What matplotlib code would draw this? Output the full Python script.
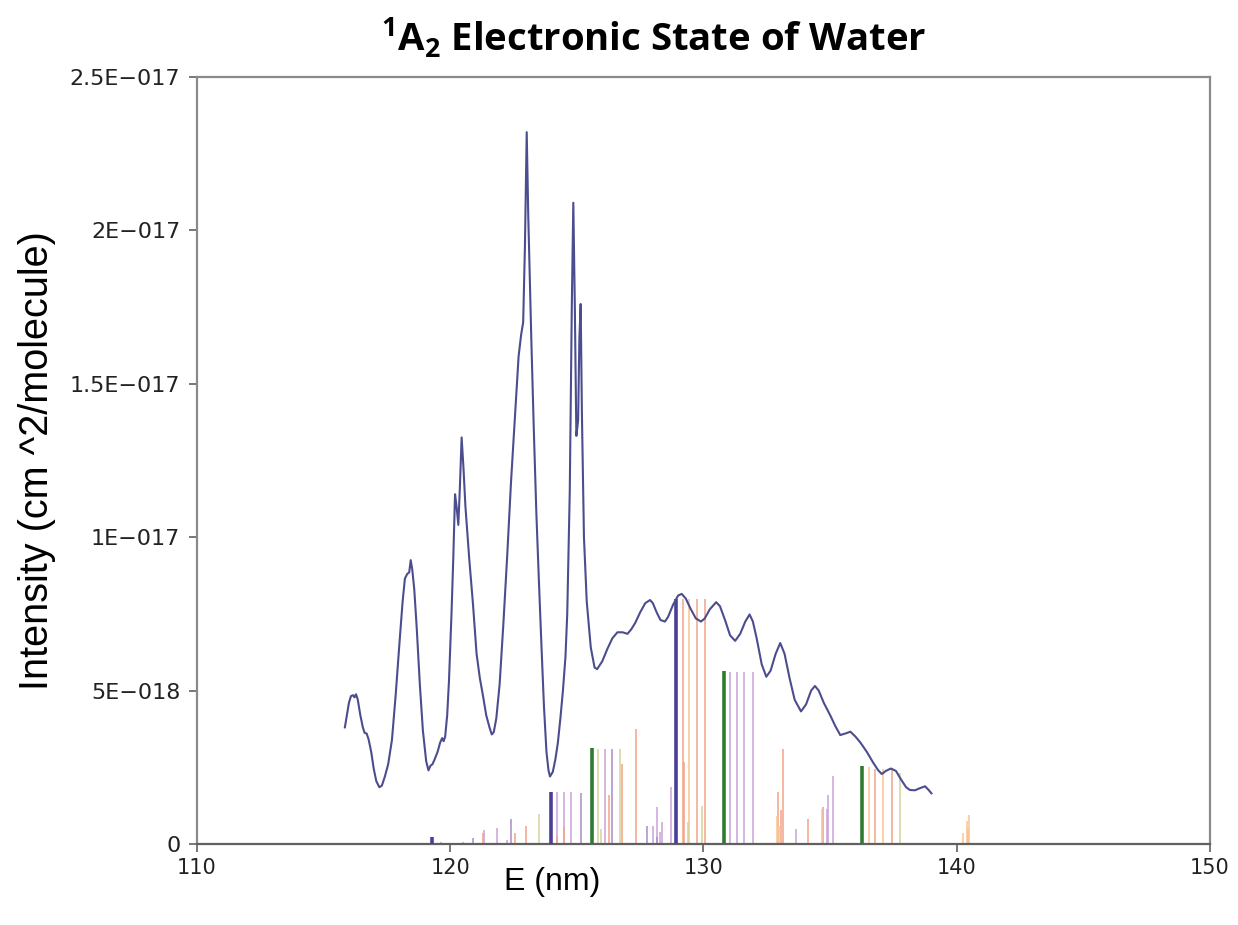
import numpy as np
import matplotlib.pyplot as plt
from matplotlib.ticker import FixedLocator

plt.rcParams['font.family'] = ['DejaVu Sans']
plt.rcParams['mathtext.fontset'] = 'custom'
plt.rcParams['mathtext.bf'] = 'Open Sans:bold'
plt.rcParams['mathtext.rm'] = 'Open Sans'

# absorption cross section, E in nm, intensity in units of 1e-18 cm^2/molecule
wl = [115.84, 115.92, 116.00, 116.08, 116.16, 116.22, 116.28, 116.35, 116.45, 116.55,
      116.62, 116.70, 116.78, 116.88, 116.98, 117.08, 117.20, 117.30, 117.42, 117.55,
      117.70, 117.85, 118.00, 118.12, 118.21, 118.30, 118.38, 118.44, 118.50, 118.58,
      118.68, 118.80, 118.92, 119.05, 119.14, 119.22, 119.30, 119.38, 119.50, 119.60,
      119.68, 119.74, 119.80, 119.88, 119.95, 120.05, 120.12, 120.19, 120.25, 120.32,
      120.38, 120.45, 120.52, 120.60, 120.75, 120.90, 121.04, 121.17, 121.30, 121.42,
      121.55, 121.64, 121.72, 121.82, 121.95, 122.10, 122.25, 122.40, 122.56, 122.70,
      122.80, 122.88, 122.95, 123.02, 123.08, 123.20, 123.30, 123.40, 123.50, 123.60,
      123.70, 123.80, 123.88, 123.94, 124.05, 124.15, 124.25, 124.35, 124.45, 124.55,
      124.62, 124.72, 124.80, 124.86, 124.92, 124.98, 125.05, 125.10, 125.15, 125.20,
      125.28, 125.39, 125.55, 125.70, 125.80, 126.00, 126.20, 126.40, 126.60, 126.80,
      127.00, 127.15, 127.30, 127.50, 127.70, 127.89, 128.00, 128.15, 128.30, 128.48,
      128.60, 128.80, 129.00, 129.14, 129.30, 129.50, 129.70, 129.90, 130.05, 130.25,
      130.50, 130.65, 130.85, 131.05, 131.25, 131.45, 131.65, 131.82, 131.95, 132.10,
      132.30, 132.48, 132.65, 132.85, 133.03, 133.20, 133.40, 133.60, 133.85, 134.05,
      134.25, 134.40, 134.55, 134.75, 135.00, 135.20, 135.40, 135.60, 135.80, 136.00,
      136.20, 136.45, 136.70, 136.90, 137.04, 137.20, 137.40, 137.60, 137.80, 138.00,
      138.15, 138.35, 138.55, 138.75, 138.90, 139.00]
sigma = [3.80, 4.20, 4.60, 4.82, 4.85, 4.78, 4.88, 4.70, 4.20, 3.80,
         3.62, 3.60, 3.40, 3.00, 2.45, 2.05, 1.85, 1.90, 2.20, 2.60,
         3.40, 4.90, 6.60, 7.90, 8.65, 8.80, 8.85, 9.25, 8.95, 8.30,
         7.00, 5.20, 3.70, 2.70, 2.40, 2.55, 2.60, 2.75, 3.00, 3.30,
         3.45, 3.35, 3.50, 4.20, 5.30, 7.50, 9.30, 11.40, 11.00, 10.40,
         11.60, 13.25, 12.30, 11.00, 9.30, 7.80, 6.20, 5.40, 4.80, 4.20,
         3.80, 3.57, 3.65, 4.10, 5.20, 7.20, 9.40, 11.80, 14.00, 15.90,
         16.60, 17.00, 19.50, 23.20, 20.50, 16.50, 13.50, 10.80, 8.60, 6.50,
         4.50, 3.00, 2.40, 2.20, 2.35, 2.75, 3.30, 4.10, 5.00, 6.10,
         7.50, 11.50, 17.50, 20.90, 17.50, 13.30, 13.80, 16.50, 17.60, 14.00,
         10.00, 7.90, 6.40, 5.75, 5.70, 5.95, 6.35, 6.70, 6.90, 6.90,
         6.85, 7.00, 7.20, 7.55, 7.85, 7.95, 7.85, 7.55, 7.30, 7.25,
         7.40, 7.80, 8.10, 8.15, 8.00, 7.65, 7.35, 7.25, 7.35, 7.65,
         7.88, 7.75, 7.30, 6.80, 6.62, 6.85, 7.25, 7.48, 7.25, 6.70,
         5.85, 5.45, 5.65, 6.20, 6.55, 6.20, 5.40, 4.70, 4.32, 4.55,
         5.00, 5.15, 5.00, 4.60, 4.20, 3.85, 3.55, 3.60, 3.66, 3.50,
         3.30, 3.00, 2.65, 2.40, 2.28, 2.38, 2.46, 2.38, 2.10, 1.85,
         1.76, 1.75, 1.82, 1.88, 1.75, 1.65]

# vibronic stick positions (nm) and heights (1e-18), one list per band colour
blue_x = [119.27, 123.98, 128.91]
blue_h = [0.24, 1.70, 7.99]
green_x = [125.61, 130.81, 136.27]
green_h = [3.12, 5.65, 2.55]
lilac_x = [119.63, 120.52, 121.35, 121.86, 122.25, 124.20, 124.48, 124.78, 126.10,
           127.99, 128.29, 128.37, 128.18, 128.70, 131.05, 131.31, 131.61, 131.97,
           133.65, 134.73, 134.86, 134.92, 135.10]
lilac_h = [0.08, 0.07, 0.45, 0.52, 0.12, 1.70, 1.70, 1.70, 3.10,
           0.58, 0.38, 0.73, 1.20, 1.85, 5.60, 5.60, 5.60, 5.60,
           0.50, 1.20, 1.14, 1.58, 2.20]
violet_x = [120.90, 122.38, 125.16, 126.40, 127.78, 128.16]
violet_h = [0.20, 0.80, 1.66, 3.10, 0.60, 0.22]
salmon_x = [121.30, 122.55, 122.99, 124.22, 124.50, 126.27, 126.80, 127.33, 129.18,
            129.23, 129.73, 130.06, 132.95, 133.05, 133.15, 134.14, 136.77, 137.45, 140.45]
salmon_h = [0.35, 0.35, 0.60, 0.25, 0.55, 1.60, 2.60, 3.75, 7.99,
            2.66, 7.99, 7.99, 1.68, 1.10, 3.10, 0.80, 2.45, 2.45, 0.50]
orange_x = [129.43, 132.90, 133.00, 134.66, 136.55, 137.10, 140.25, 140.39, 140.50]
orange_h = [7.99, 0.90, 0.60, 1.14, 2.50, 2.45, 0.35, 0.75, 0.95]
olive_x = [123.50, 125.84, 125.95, 126.72, 129.40, 129.95, 137.76]
olive_h = [0.98, 3.10, 0.50, 3.10, 0.70, 1.25, 2.30]

yticks = [0, 5, 10, 15, 20, 25]
ytick_labels = ['0', '5E\u2212018', '1E\u2212017', '1.5E\u2212017', '2E\u2212017', '2.5E\u2212017']
xticks = [110, 120, 130, 140, 150]

fig = plt.figure(figsize=(12.38, 9.25), dpi=100)
ax = fig.add_axes([0.1591, 0.0876, 0.8183, 0.8292])

ax.vlines(lilac_x, 0, lilac_h, color='#c9a2d8', lw=1.1, zorder=2)
ax.vlines(violet_x, 0, violet_h, color='#a88cc8', lw=1.1, zorder=2)
ax.vlines(salmon_x, 0, salmon_h, color='#f2a487', lw=1.1, zorder=2)
ax.vlines(orange_x, 0, orange_h, color='#fcc48e', lw=1.1, zorder=2)
ax.vlines(olive_x, 0, olive_h, color='#d6d29a', lw=1.1, zorder=2)
ax.vlines(green_x, 0, green_h, color='#2e7b30', lw=2.6, zorder=3)
ax.vlines(blue_x, 0, blue_h, color='#4a3f98', lw=2.6, zorder=3)

ax.plot(wl, sigma, color='#4b4d8e', lw=1.5, zorder=4)

ax.set_xlim(110, 150)
ax.set_ylim(0, 25)
ax.xaxis.set_major_locator(FixedLocator(xticks))
ax.set_xticklabels([str(t) for t in xticks])
ax.yaxis.set_major_locator(FixedLocator(yticks))
ax.set_yticklabels(ytick_labels)

for sp in ax.spines.values():
    sp.set_color('#8a8a8a')
    sp.set_linewidth(1.6)
ax.spines['bottom'].set_color('#606060')
ax.tick_params(direction='out', length=6, width=1.2, color='#606060',
               labelcolor='#222222', top=False, right=False)
ax.tick_params(axis='x', labelsize=15, pad=4)
ax.tick_params(axis='y', labelsize=16, pad=6)

ax.set_xlabel('E (nm)', fontsize=23, family=['Liberation Sans', 'DejaVu Sans'],
              va='center')
ax.xaxis.set_label_coords(0.351, -0.05)
ax.set_ylabel('Intensity (cm ^2/molecule)', fontsize=28.5,
              family=['Liberation Sans', 'DejaVu Sans'])
ax.yaxis.set_label_coords(-0.139, 0.5)

fig.text(0.528, 0.958, r'$\mathbf{^{1}A_{2}}$ Electronic State of Water',
         fontsize=27.5, fontweight='bold', family=['Open Sans', 'DejaVu Sans'],
         ha='center', va='center')

fig.savefig('out.png', dpi=100)
